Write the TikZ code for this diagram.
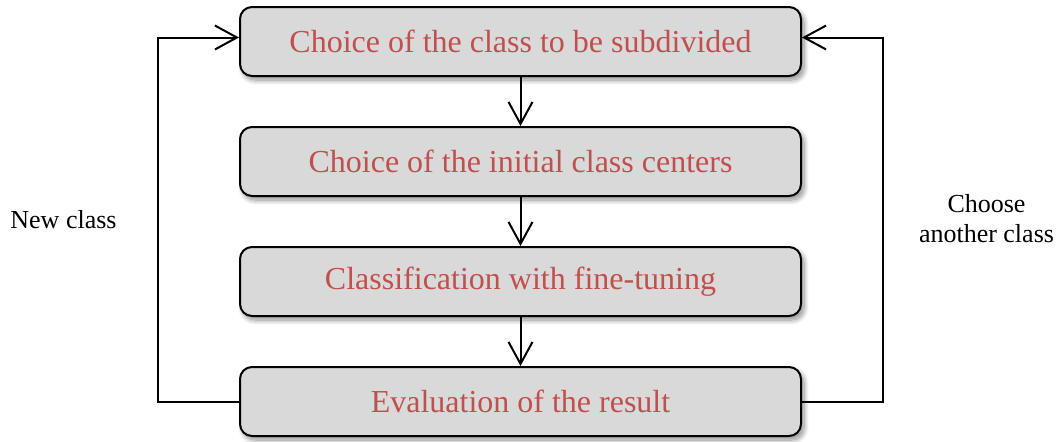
\documentclass[tikz,border=0pt]{standalone}
\usepackage{fontspec}
\setmainfont{Liberation Serif}
\usetikzlibrary{arrows.meta,shadows.blur}
\definecolor{boxfill}{HTML}{D9D9D9}
\definecolor{boxtext}{HTML}{C0504D}
\tikzset{
  stepbox/.style={draw=black, line width=2pt, fill=boxfill, rounded corners=12pt,
    minimum width=561pt, minimum height=69pt, inner sep=0pt,
    text=boxtext, font=\fontsize{32}{38}\selectfont,
    blur shadow={shadow xshift=3pt, shadow yshift=-4pt, shadow blur steps=10, shadow opacity=45, shadow blur radius=5pt}},
  arr/.style={line width=2pt, -{Straight Barb[length=22pt, width=24pt, line width=2pt]}},
  lbl/.style={font=\fontsize{26}{30}\selectfont, align=center, inner sep=0pt}
}
\begin{document}
\begin{tikzpicture}[x=1pt,y=-1pt]
\useasboundingbox (0,0) rectangle (1061,442);
\node[stepbox] (b1) at (520.5,41.5) {Choice of the class to be subdivided};
\node[stepbox] (b2) at (520.5,161.5) {Choice of the initial class centers};
\node[stepbox] (b3) at (520.5,281.5) {Classification with fine-tuning};
\node[stepbox] (b4) at (520.5,401.5) {Evaluation of the result};
\draw[arr] (b1) -- (b2);
\draw[arr] (b2) -- (b3);
\draw[arr] (b3) -- (b4);
\coordinate (lc) at (158,401.5);
\coordinate (rc) at (883,401.5);
\draw[arr] (b4.west) -- (lc) |- ([yshift=4pt]b1.west);
\draw[arr] (b4.east) -- (rc) |- ([yshift=4pt]b1.east);
\node[lbl, anchor=base] (nl) at (63.5,228) {New class};
\node[lbl, anchor=base] (cl) at (986.5,242) {Choose\\another class};
\end{tikzpicture}
\end{document}
